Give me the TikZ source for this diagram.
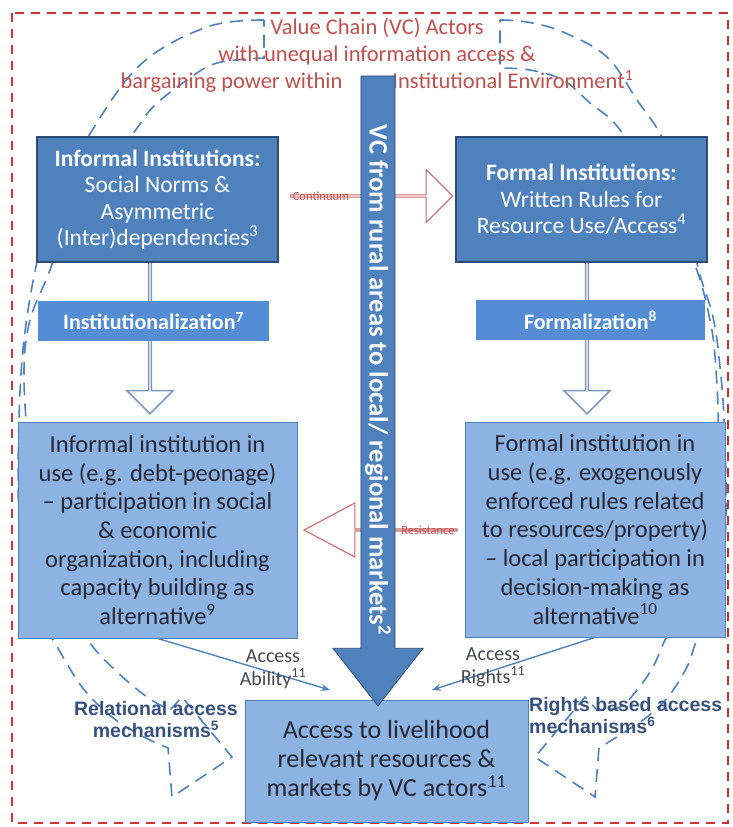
\documentclass[tikz,border=0pt]{standalone}
\usepackage{fontspec}
\setmainfont{Carlito}
\newfontfamily\arialfont{Liberation Sans}
\usepackage{tikz}
\usepackage{xcolor}
\usetikzlibrary{arrows.meta,shapes.arrows}
\definecolor{ppblue}{RGB}{79,129,189}
\definecolor{ppnavy}{RGB}{45,75,115}
\definecolor{midblue}{RGB}{84,141,212}
\definecolor{paleblue}{RGB}{141,179,226}
\definecolor{ppred}{RGB}{192,80,77}
\definecolor{framered}{RGB}{204,51,51}
\definecolor{hollowline}{RGB}{125,152,190}
\definecolor{inktext}{RGB}{38,38,52}
\definecolor{mechtext}{RGB}{55,80,125}

\begin{document}
\begin{tikzpicture}[x=1pt,y=-1pt,
    arcline/.style={draw=ppblue,line width=1.6pt,dash pattern=on 13pt off 8pt},
    darkbox/.style={draw=ppnavy,line width=1.2pt,fill=ppblue,text=white,inner sep=0pt,align=center,
      font=\fontsize{23.5}{26.5}\selectfont},
    midbox/.style={fill=midblue,text=white,inner sep=0pt,align=center,
      font=\bfseries\fontsize{22}{24}\selectfont},
    usebox/.style={draw=ppblue,line width=0.8pt,fill=paleblue,text=inktext,inner sep=0pt,align=center,
      font=\fontsize{24.5}{28.7}\selectfont},
    hollowarrow/.style={single arrow,draw=hollowline,line width=1.5pt,fill=white,inner sep=0pt,
      minimum height=151pt,minimum width=46pt,single arrow head extend=11pt,rotate=-90},
    redarrow/.style={single arrow,draw=ppred!85,line width=1.1pt,fill=white,inner sep=0pt},
    redtag/.style={text=ppred,font=\fontsize{12.5}{13}\selectfont,inner sep=0pt},
    accline/.style={draw=ppblue,line width=1.4pt,-{Stealth[length=9pt,width=7pt]}},
    acctext/.style={text=inktext!85,align=center,inner sep=0pt,font=\fontsize{20}{23}\selectfont},
    mechtag/.style={text=mechtext,inner sep=0pt,font=\arialfont\bfseries\fontsize{19.5}{22}\selectfont}]
  \useasboundingbox (0,0) rectangle (733,827);

  \draw[draw=framered,line width=2.6pt,dash pattern=on 9pt off 7pt] (12,13) rectangle (728,823);

  \draw[arcline] plot[smooth,tension=0.6] coordinates {(264,20) (207,27) (140,65) (88,137) (55,200)
      (37,262) (24,340) (19,420) (19,520) (28,600) (53,640) (82,687) (112,717) (140,735) (168,748)}
    -- (172,797) -- (232,757) -- (182,697) -- (170,710)
    -- plot[smooth,tension=0.6] coordinates {(170,710) (147,697) (115,670) (88,640) (62,590) (40,520)
      (28,440) (24,370) (30,320) (50,270) (75,200) (130,137) (153,107) (187,80) (217,63) (264,58)}
    -- cycle;
  \draw[arcline] plot[smooth,tension=0.6] coordinates {(500,20) (527,22) (563,32) (607,57) (637,100)
      (662,137) (690,200) (697,263) (713,317) (720,367) (724,420) (726,520) (718,600) (697,640)
      (687,667) (668,697) (647,717) (623,733) (599,748)}
    -- (595,797) -- (535,757) -- (585,697) -- (597,710)
    -- plot[smooth,tension=0.6] coordinates {(597,710) (620,707) (637,690) (653,667) (665,640)
      (690,590) (710,520) (718,440) (716,370) (710,320) (693,260) (660,200) (620,130) (590,103)
      (563,80) (530,70) (500,68)}
    -- cycle;

  \node[text=ppred,align=center,inner sep=0pt,font=\fontsize{22.5}{27}\selectfont] (title) at (377,55)
    {Value Chain (VC) Actors\\
     with unequal information access \&\\
     bargaining power within\hspace{50pt}Institutional Environment\textsuperscript{1}};

  \node[redarrow,minimum height=162pt,minimum width=53pt,single arrow head extend=12.5pt] (contarrow) at (371,196) {};
  \node[redtag] (conttag) at (321,196) {Continuum};
  \node[redarrow,minimum height=153pt,minimum width=54pt,single arrow head extend=14pt,
        single arrow tip angle=56,shape border rotate=180] (resarrow) at (381.5,530) {};
  \node[redtag] (restag) at (428,530) {Resistance};

  \node[hollowarrow] (instarrow) at (150,337.5) {};
  \node[hollowarrow] (formarrow) at (587,337.5) {};

  \node[darkbox,minimum width=241pt,minimum height=125pt] (infinst) at (157.5,199.5)
    {\textbf{Informal Institutions:}\\Social Norms \&\\Asymmetric\\(Inter)dependencies\textsuperscript{3}};
  \node[darkbox,minimum width=251pt,minimum height=125pt] (forminst) at (581.5,199.5)
    {\textbf{Formal Institutions:}\\Written Rules for\\Resource Use/Access\textsuperscript{4}};

  \node[midbox,minimum width=231pt,minimum height=40pt] (instz) at (153.5,321) {Institutionalization\textsuperscript{7}};
  \node[midbox,minimum width=229pt,minimum height=40pt] (formz) at (590.5,320) {Formalization\textsuperscript{8}};

  \node[usebox,minimum width=279pt,minimum height=216pt] (infuse) at (157.5,530)
    {Informal institution in\\use (e.g. debt-peonage)\\-- participation in social\\\& economic\\
     organization, including\\capacity building as\\alternative\textsuperscript{9}};
  \node[usebox,minimum width=260pt,minimum height=215pt] (formuse) at (595,529.5)
    {Formal institution in\\use (e.g. exogenously\\enforced rules related\\to resources/property)\\
     -- local participation in\\decision-making as\\alternative\textsuperscript{10}};

  \node[usebox,minimum width=283pt,minimum height=122pt,font=\fontsize{26}{29}\selectfont] (access) at (386.5,761)
    {Access to livelihood\\relevant resources \&\\markets by VC actors\textsuperscript{11}};

  \node[single arrow,draw=ppnavy,line width=0.8pt,fill=ppblue,text=white,inner sep=2pt,
        minimum height=630pt,minimum width=90pt,single arrow head extend=25pt,single arrow tip angle=76,
        rotate=-90,font=\bfseries\fontsize{26.5}{28}\selectfont] (vcarrow) at (378,380)
    {VC from rural areas to local/ regional markets\textsuperscript{2}\hspace{36pt}};

  \coordinate (abend) at (330,690);
  \coordinate (riend) at (432,690);
  \draw[accline] (infuse.south) -- (abend);
  \draw[accline] (formuse.south) -- (riend);
  \node[acctext] (ablabel) at (273,669) {Access\\Ability\textsuperscript{11}};
  \node[acctext] (rilabel) at (493,667) {Access\\Rights\textsuperscript{11}};

  \node[mechtag,align=center,anchor=east] (relmech) at (238,720) {Relational access\\mechanisms\textsuperscript{5}};
  \node[mechtag,align=left,anchor=west] (rightsmech) at (529,716) {Rights based access\\mechanisms\textsuperscript{6}};
\end{tikzpicture}
\end{document}
